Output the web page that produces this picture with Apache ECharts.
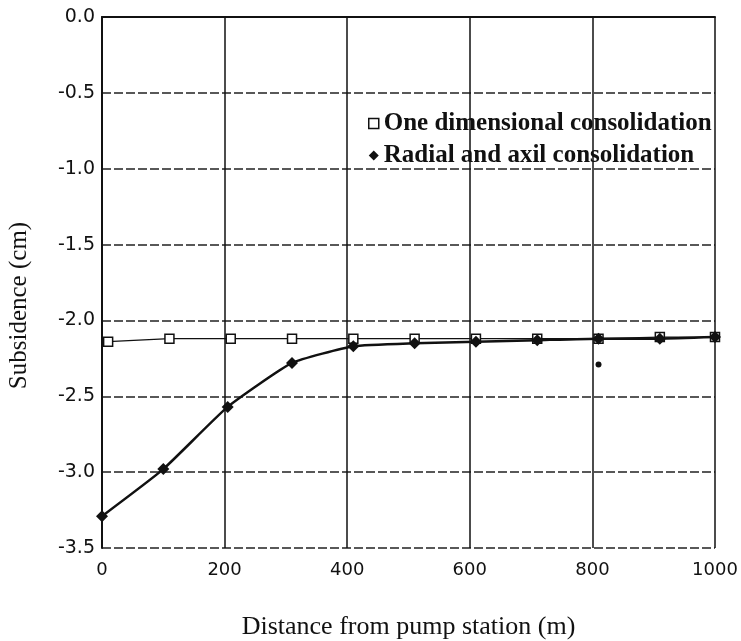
<!DOCTYPE html>
<html>
<head>
<meta charset="utf-8">
<title>Subsidence vs distance</title>
<script src="https://cdn.jsdelivr.net/npm/echarts@6/dist/echarts.min.js"></script>
<style>
    html, body { margin: 0; padding: 0; background: #fff; }
    #chart { width: 741px; height: 641px; }
</style>
</head>
<body>
<div id="chart"></div>
<script>
// values
const oneDimX = [10, 110, 210, 310, 410, 510, 610, 710, 810, 910, 1000];
const oneDimY = [-2.14, -2.12, -2.12, -2.12, -2.12, -2.12, -2.12, -2.12, -2.12, -2.11, -2.11];
const radialX = [0, 100, 205, 310, 410, 510, 610, 710, 810, 910, 1000];
const radialY = [-3.29, -2.98, -2.57, -2.28, -2.17, -2.15, -2.14, -2.13, -2.12, -2.12, -2.11];
const strayPoint = [[810, -2.29]];

const oneDimName = 'One dimensional consolidation';
const radialName = 'Radial and axil consolidation';

const zip = (xs, ys) => xs.map((x, i) => [x, ys[i]]);

let chart = echarts.init(document.getElementById('chart'));
let option = {
    backgroundColor: '#fff',
    animation: false,
    grid: {
        left: 102,
        right: 26,
        top: 17,
        bottom: 93,
        outerBoundsMode: 'none'
    },
    legend: {
        orient: 'vertical',
        left: 363,
        top: 106,
        itemWidth: 10,
        itemHeight: 10,
        itemGap: 7,
        textStyle: {
            fontFamily: 'Liberation Serif',
            fontSize: 25,
            fontWeight: 'bold',
            color: '#111'
        },
        data: [
            {name: oneDimName, icon: 'rect', itemStyle: {color: '#fff', borderColor: '#111', borderWidth: 1.5}},
            {name: radialName, icon: 'diamond', itemStyle: {color: '#111', borderWidth: 0}}
        ]
    },
    xAxis: {
        type: 'value',
        min: 0,
        max: 1000,
        interval: 200,
        name: 'Distance from pump station (m)',
        nameLocation: 'middle',
        nameGap: 66,
        nameTextStyle: {
            fontFamily: 'Liberation Serif',
            fontSize: 26,
            color: '#111'
        },
        axisLine: {lineStyle: {color: '#111', width: 2}},
        axisTick: {show: false},
        axisLabel: {
            margin: 13,
            fontFamily: 'DejaVu Sans',
            fontSize: 18,
            color: '#111',
            formatter: v => String(v)
        },
        splitLine: {show: true, lineStyle: {color: '#111', width: 1.5, type: 'solid'}}
    },
    yAxis: {
        type: 'value',
        min: -3.5,
        max: 0,
        interval: 0.5,
        name: 'Subsidence (cm)',
        nameLocation: 'middle',
        nameGap: 70,
        nameTextStyle: {
            fontFamily: 'Liberation Serif',
            fontSize: 25,
            color: '#111',
            padding: [0, 46, 0, 0]
        },
        axisLine: {show: true, lineStyle: {color: '#111', width: 2}},
        axisTick: {show: false},
        axisLabel: {
            margin: 7,
            fontFamily: 'DejaVu Sans',
            fontSize: 19,
            color: '#111',
            formatter: v => v.toFixed(1)
        },
        splitLine: {show: true, lineStyle: {color: '#222', width: 1.5, type: [9, 3]}}
    },
    series: [
        {
            name: oneDimName,
            type: 'line',
            data: zip(oneDimX, oneDimY),
            symbol: 'rect',
            symbolSize: 9,
            itemStyle: {color: '#fff', borderColor: '#111', borderWidth: 1.5},
            lineStyle: {color: '#111', width: 1.3},
            z: 2
        },
        {
            name: radialName,
            type: 'line',
            data: zip(radialX, radialY),
            smooth: 0.15,
            symbol: 'diamond',
            symbolSize: 12,
            itemStyle: {color: '#111'},
            lineStyle: {color: '#111', width: 2.5},
            z: 3
        },
        {
            name: 'stray',
            type: 'scatter',
            data: strayPoint,
            symbol: 'circle',
            symbolSize: 6,
            itemStyle: {color: '#111', opacity: 1},
            z: 3
        }
    ]
};
chart.setOption(option);
</script>
</body>
</html>
